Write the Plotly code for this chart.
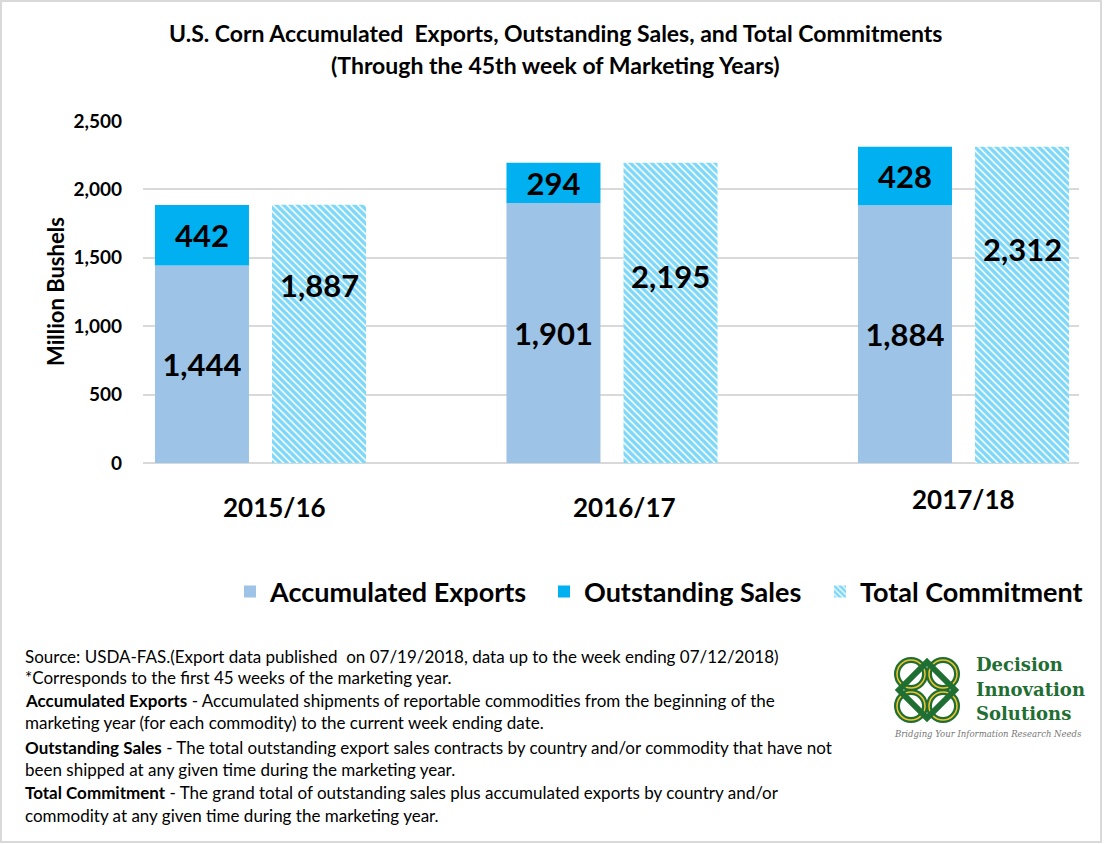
import plotly.graph_objects as go

# ---- data ----
categories = ["2015/16", "2016/17", "2017/18"]
accumulated_exports = [1444, 1901, 1884]
outstanding_sales = [442, 294, 428]
total_commitment = [1887, 2195, 2312]
# vertical anchor (in data units) of the total-commitment labels, as placed in the original
total_label_pos = [1301, 1367, 1564]

W, H = 1104, 844
PL, PR, PT, PB = 143, 1079, 121, 463  # plot area in pixels
FONT = "Lato"
C_ACC = "#9DC3E6"
C_OUT = "#00B0F0"
GRID = "#D9D9D9"


def px(x):
    return (x - PL) / (PR - PL)


def py(y):
    return (PB - y) / (PB - PT)


xs = list(range(len(categories)))
unit = 351.5
BARGAP = 0.334
x0 = (PL - 260.5) / unit
x1 = (PR - 260.5) / unit
LABEL_SIZE = 31

fig = go.Figure()
fig.add_trace(go.Bar(
    x=xs, y=accumulated_exports, name="Accumulated Exports", offsetgroup="a",
    legend="legend",
    marker=dict(color=C_ACC, line=dict(width=0)),
    text=[f"{v:,}" for v in accumulated_exports], textposition="inside",
    insidetextanchor="middle", constraintext="none",
    textfont=dict(family=FONT, size=LABEL_SIZE, color="black", weight="bold"),
))
fig.add_trace(go.Bar(
    x=xs, y=outstanding_sales, base=accumulated_exports, name="Outstanding Sales",
    offsetgroup="a", legend="legend2",
    marker=dict(color=C_OUT, line=dict(width=0)),
    text=[f"{v:,}" for v in outstanding_sales], textposition="inside",
    insidetextanchor="middle", constraintext="none",
    textfont=dict(family=FONT, size=LABEL_SIZE, color="black", weight="bold"),
))
fig.add_trace(go.Bar(
    x=xs, y=total_commitment, name="Total Commitment", offsetgroup="b",
    legend="legend3",
    marker=dict(color=C_OUT, line=dict(width=0),
                pattern=dict(shape="\\", fgcolor=C_OUT, bgcolor="white",
                             size=5, solidity=0.7)),
))

ann = []
slot = (1 - BARGAP) * unit / 2
for i, (v, p) in enumerate(zip(total_commitment, total_label_pos)):
    ann.append(dict(x=xs[i], y=p, xref="x", yref="y", text=f"<b>{v:,}</b>",
                    showarrow=False, xshift=slot / 2,
                    font=dict(family=FONT, size=LABEL_SIZE, color="black")))

# category labels (placed as in the original)
cat_shift = [14, 12, 0]
cat_y = [507, 507, 499]
for i, c in enumerate(categories):
    ann.append(dict(x=xs[i], y=py(cat_y[i]), xref="x", yref="paper",
                    xshift=cat_shift[i], text=f"<b>{c}</b>", showarrow=False,
                    font=dict(family=FONT, size=26, color="black"),
                    xanchor="center", yanchor="middle"))

# titles
ann.append(dict(x=px(555), y=py(33), xref="paper", yref="paper",
                text="<b>U.S. Corn Accumulated  Exports, Outstanding Sales, and Total Commitments</b>",
                showarrow=False, font=dict(family=FONT, size=23, color="black"),
                xanchor="center", yanchor="middle"))
ann.append(dict(x=px(555), y=py(65), xref="paper", yref="paper",
                text="<b>(Through the 45th week of Marketing Years)</b>",
                showarrow=False, font=dict(family=FONT, size=23, color="black"),
                xanchor="center", yanchor="middle"))
# y axis title
ann.append(dict(x=px(55), y=py(292), xref="paper", yref="paper",
                text="<b>Million Bushels</b>", textangle=-90, showarrow=False,
                font=dict(family=FONT, size=22, color="black"),
                xanchor="center", yanchor="middle"))

# footer notes
notes = [
    "Source: USDA-FAS.(Export data published  on 07/19/2018, data up to the week ending 07/12/2018)",
    "*Corresponds to the first 45 weeks of the marketing year.",
    "<b>Accumulated Exports</b> - Accumulated shipments of reportable commodities from the beginning of the",
    "marketing year (for each commodity) to the current week ending date.",
    "<b>Outstanding Sales</b> - The total outstanding export sales contracts by country and/or commodity that have not",
    "been shipped at any given time during the marketing year.",
    "<b>Total Commitment</b> - The grand total of outstanding sales plus accumulated exports by country and/or",
    "commodity at any given time during the marketing year.",
]
note_y = [656, 677, 700, 722, 747, 769, 792, 815]
for t, yy in zip(notes, note_y):
    ann.append(dict(x=px(23), y=py(yy), xref="paper", yref="paper", text=t,
                    showarrow=False, xanchor="left", yanchor="middle",
                    font=dict(family=FONT, size=17, color="black")))

# logo text
GREEN = "#1F6E32"
for t, yy in zip(["Decision", "Innovation", "Solutions"], [664, 689, 713]):
    ann.append(dict(x=px(974), y=py(yy), xref="paper", yref="paper",
                    text=f"<b>{t}</b>", showarrow=False, xanchor="left",
                    yanchor="middle",
                    font=dict(family="DejaVu Serif", size=18, color=GREEN)))
ann.append(dict(x=px(988), y=py(734), xref="paper", yref="paper",
                text="<i>Bridging Your Information Research Needs</i>",
                showarrow=False, xanchor="center", yanchor="middle",
                font=dict(family="DejaVu Serif", size=8.5, color="#777777")))

shapes = []
# border
shapes.append(dict(type="rect", xref="paper", yref="paper",
                   x0=px(1), x1=px(1101), y0=py(842), y1=py(1),
                   line=dict(color=GRID, width=2), fillcolor="rgba(0,0,0,0)",
                   layer="below"))
# logo knot: four rings and a diamond
cx, cy = 927, 690
for dx, dy in [(-16, -16), (16, -16), (-16, 16), (16, 16)]:
    shapes.append(dict(type="circle", xref="paper", yref="paper",
                       x0=px(cx + dx - 14), x1=px(cx + dx + 14),
                       y0=py(cy + dy + 14), y1=py(cy + dy - 14),
                       line=dict(color=GREEN, width=6)))
    shapes.append(dict(type="circle", xref="paper", yref="paper",
                       x0=px(cx + dx - 14), x1=px(cx + dx + 14),
                       y0=py(cy + dy + 14), y1=py(cy + dy - 14),
                       line=dict(color="#F2C230", width=1.5)))
path = "M {} {} L {} {} L {} {} L {} {} Z".format(
    px(cx), py(cy - 28), px(cx + 28), py(cy), px(cx), py(cy + 28), px(cx - 28), py(cy))
shapes.append(dict(type="path", xref="paper", yref="paper", path=path,
                   line=dict(color=GREEN, width=6)))

legend_font = dict(family=FONT, size=27, color="black", weight="bold")


def leg(xpix):
    return dict(orientation="h", x=px(xpix), y=py(592), xanchor="left",
                yanchor="middle", font=legend_font, itemwidth=30,
                bgcolor="rgba(0,0,0,0)")


fig.update_layout(
    width=W, height=H,
    margin=dict(l=PL, r=W - PR, t=PT, b=H - PB, pad=0),
    paper_bgcolor="white", plot_bgcolor="white",
    barmode="group", bargap=BARGAP, bargroupgap=0.197,
    font=dict(family=FONT, color="black"),
    xaxis=dict(range=[x0, x1], showticklabels=False, showgrid=False,
               zeroline=False, showline=False, ticks=""),
    yaxis=dict(range=[0, 2500], tickvals=[0, 500, 1000, 1500, 2000, 2500],
               ticktext=["0", "500", "1,000", "1,500", "2,000", "2,500"],
               tickfont=dict(family=FONT, size=19, color="black", weight="bold"),
               showgrid=True, gridcolor=GRID, gridwidth=1.5,
               zeroline=True, zerolinecolor=GRID, zerolinewidth=2,
               showline=False, ticks="", ticklabelstandoff=20),
    showlegend=True,
    legend=leg(230), legend2=leg(544), legend3=leg(820),
    annotations=ann, shapes=shapes,
)

fig.write_html("out.html", config={"displayModeBar": False},
               post_script="document.body.style.margin='0';")
